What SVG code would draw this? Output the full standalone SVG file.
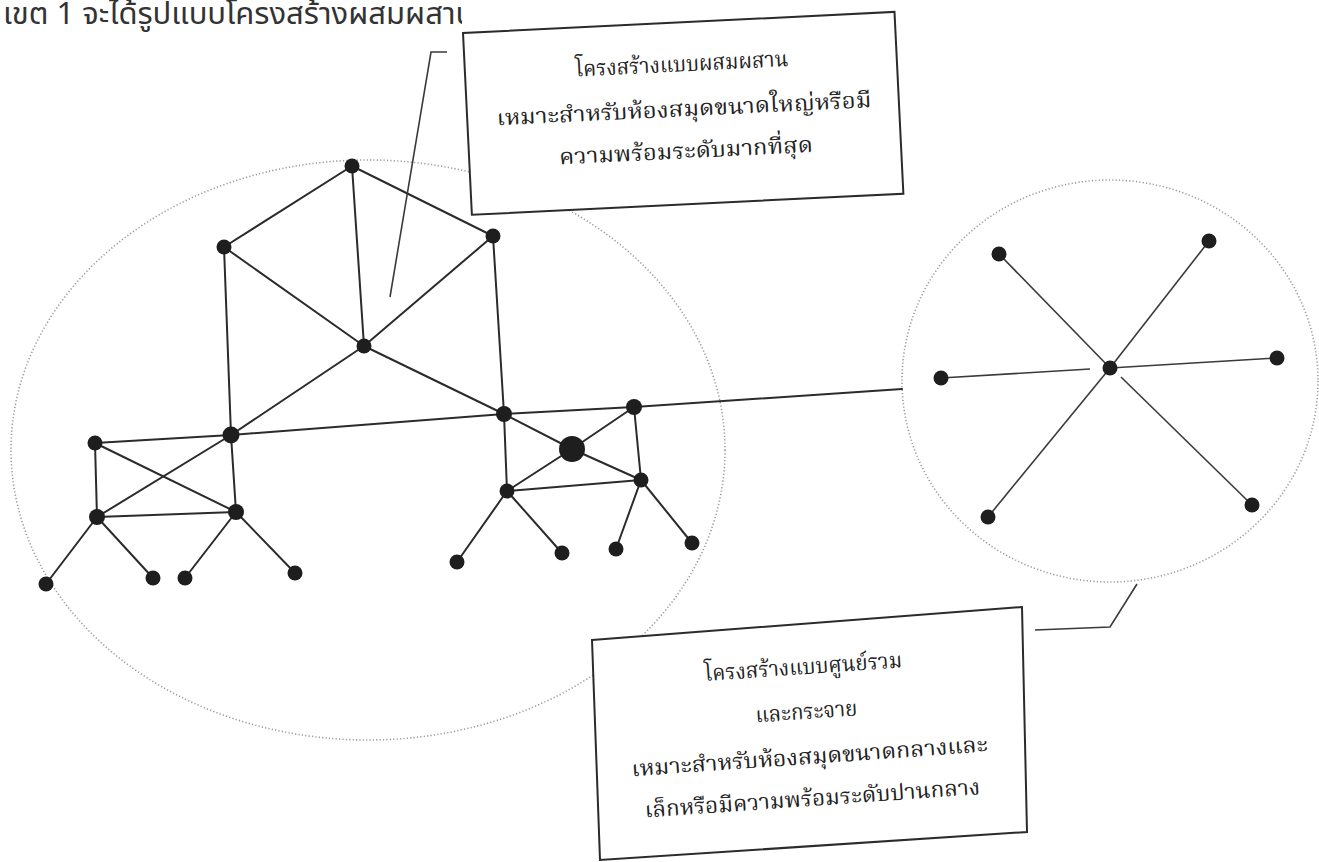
<svg xmlns="http://www.w3.org/2000/svg" width="1319" height="862" viewBox="0 0 1319 862">
<style>
.bg{fill:#ffffff}
.edge{stroke:#2b2b2b;stroke-width:2;fill:none;stroke-linecap:round}
.thin{stroke:#3a3a3a;stroke-width:1.6;fill:none}
.dot{stroke:#9a9a9a;stroke-width:1.6;stroke-dasharray:1.2 2.2;fill:none}
.node{fill:#1e1e1e}
.box{fill:#ffffff;stroke:#2b2b2b;stroke-width:2}
.th{font-family:"Noto Serif Thai","Noto Sans Thai","Loma","Garuda","Norasi","Liberation Serif",serif;fill:#222;text-anchor:middle}
.hd{font-family:"Noto Sans Thai","Loma","Garuda","Liberation Sans",sans-serif;fill:#333}
</style>
<defs>
<clipPath id="hclip"><rect x="0" y="0" width="462" height="40"/></clipPath>
</defs>
<rect class="bg" x="0" y="0" width="1319" height="862"/>

<g id="header" clip-path="url(#hclip)">
<text class="hd" x="3" y="24" font-size="31">เขต 1 จะได้รูปแบบโครงสร้างผสมผสาน</text>
</g>

<g id="regions">
<ellipse class="dot" cx="368" cy="450" rx="357" ry="290"/>
<ellipse class="dot" cx="1110" cy="381" rx="208" ry="201"/>
</g>

<g id="connectors">
<!-- top mesh -->
<line class="edge" x1="352" y1="166" x2="224" y2="247"/>
<line class="edge" x1="352" y1="166" x2="493" y2="236"/>
<line class="edge" x1="352" y1="166" x2="364" y2="346"/>
<line class="edge" x1="224" y1="247" x2="364" y2="346"/>
<line class="edge" x1="493" y1="236" x2="364" y2="346"/>
<line class="edge" x1="224" y1="247" x2="231" y2="435"/>
<line class="edge" x1="493" y1="236" x2="504" y2="414"/>
<line class="edge" x1="364" y1="346" x2="231" y2="435"/>
<line class="edge" x1="364" y1="346" x2="504" y2="414"/>
<!-- long backbone -->
<line class="edge" x1="231" y1="435" x2="504" y2="414"/>
<line class="edge" x1="504" y1="414" x2="634" y2="407"/>
<line class="edge" x1="634" y1="407" x2="902" y2="389"/>
<!-- left cluster -->
<line class="edge" x1="231" y1="435" x2="95" y2="443"/>
<line class="edge" x1="95" y1="443" x2="97" y2="517"/>
<line class="edge" x1="95" y1="443" x2="236" y2="512"/>
<line class="edge" x1="231" y1="435" x2="97" y2="517"/>
<line class="edge" x1="231" y1="435" x2="236" y2="512"/>
<line class="edge" x1="97" y1="517" x2="236" y2="512"/>
<line class="edge" x1="97" y1="517" x2="46" y2="584"/>
<line class="edge" x1="97" y1="517" x2="153" y2="578"/>
<line class="edge" x1="236" y1="512" x2="185" y2="578"/>
<line class="edge" x1="236" y1="512" x2="295" y2="573"/>
<!-- right cluster -->
<line class="edge" x1="504" y1="414" x2="572" y2="449"/>
<line class="edge" x1="504" y1="414" x2="507" y2="491"/>
<line class="edge" x1="634" y1="407" x2="572" y2="449"/>
<line class="edge" x1="634" y1="407" x2="641" y2="480"/>
<line class="edge" x1="572" y1="449" x2="507" y2="491"/>
<line class="edge" x1="572" y1="449" x2="641" y2="480"/>
<line class="edge" x1="507" y1="491" x2="641" y2="480"/>
<line class="edge" x1="507" y1="491" x2="457" y2="562"/>
<line class="edge" x1="507" y1="491" x2="562" y2="553"/>
<line class="edge" x1="641" y1="480" x2="616" y2="549"/>
<line class="edge" x1="641" y1="480" x2="692" y2="543"/>
<!-- star -->
<line class="thin" x1="999" y1="254" x2="1110" y2="368"/>
<line class="thin" x1="1209" y1="241" x2="1110" y2="368"/>
<line class="thin" x1="941" y1="378" x2="1090" y2="369"/>
<line class="thin" x1="1277" y1="358" x2="1110" y2="368"/>
<line class="thin" x1="988" y1="517" x2="1110" y2="368"/>
<line class="thin" x1="1252" y1="505" x2="1121" y2="377"/>
<!-- callouts -->
<polyline class="thin" points="447,52 431,52 390,297"/>
<polyline class="thin" points="1035,630 1110,627 1137,584"/>
</g>

<g id="nodes">
<circle class="node" cx="352" cy="166" r="7.5"/>
<circle class="node" cx="224" cy="247" r="7.5"/>
<circle class="node" cx="493" cy="236" r="7.5"/>
<circle class="node" cx="364" cy="346" r="7.5"/>
<circle class="node" cx="231" cy="435" r="8.5"/>
<circle class="node" cx="504" cy="414" r="8"/>
<circle class="node" cx="95" cy="443" r="7.5"/>
<circle class="node" cx="97" cy="517" r="8"/>
<circle class="node" cx="236" cy="512" r="8"/>
<circle class="node" cx="46" cy="584" r="7.5"/>
<circle class="node" cx="153" cy="578" r="7.5"/>
<circle class="node" cx="185" cy="578" r="7.5"/>
<circle class="node" cx="295" cy="573" r="7.5"/>
<circle class="node" cx="634" cy="407" r="8"/>
<circle class="node" cx="572" cy="449" r="13"/>
<circle class="node" cx="507" cy="491" r="7.5"/>
<circle class="node" cx="641" cy="480" r="7.5"/>
<circle class="node" cx="457" cy="562" r="7.5"/>
<circle class="node" cx="562" cy="553" r="7.5"/>
<circle class="node" cx="616" cy="549" r="7.5"/>
<circle class="node" cx="692" cy="543" r="7.5"/>
<circle class="node" cx="1110" cy="368" r="7.5"/>
<circle class="node" cx="999" cy="254" r="7.5"/>
<circle class="node" cx="1209" cy="241" r="7.5"/>
<circle class="node" cx="941" cy="378" r="7.5"/>
<circle class="node" cx="1277" cy="358" r="7.5"/>
<circle class="node" cx="988" cy="517" r="7.5"/>
<circle class="node" cx="1252" cy="505" r="7.5"/>
</g>

<g id="box-mixed" transform="rotate(-2.8 463 33)">
<rect class="box" x="463" y="33" width="432" height="182"/>
<text class="th" x="680" y="82" font-size="22" textLength="213" lengthAdjust="spacingAndGlyphs">โครงสร้างแบบผสมผสาน</text>
<text class="th" x="680" y="127" font-size="22" textLength="375" lengthAdjust="spacingAndGlyphs">เหมาะสำหรับห้องสมุดขนาดใหญ่หรือมี</text>
<text class="th" x="680" y="169" font-size="22" textLength="254" lengthAdjust="spacingAndGlyphs">ความพร้อมระดับมากที่สุด</text>
</g>

<g id="box-central">
<polygon class="box" points="592,640 1022,607 1027,832 600,860"/>
<g transform="rotate(-4 808 735)">
<text class="th" x="808" y="674" font-size="22" textLength="198" lengthAdjust="spacingAndGlyphs">โครงสร้างแบบศูนย์รวม</text>
<text class="th" x="808" y="719" font-size="22" textLength="102" lengthAdjust="spacingAndGlyphs">และกระจาย</text>
<text class="th" x="808" y="764" font-size="22" textLength="357" lengthAdjust="spacingAndGlyphs">เหมาะสำหรับห้องสมุดขนาดกลางและ</text>
<text class="th" x="808" y="806" font-size="22" textLength="336" lengthAdjust="spacingAndGlyphs">เล็กหรือมีความพร้อมระดับปานกลาง</text>
</g>
</g>
</svg>
